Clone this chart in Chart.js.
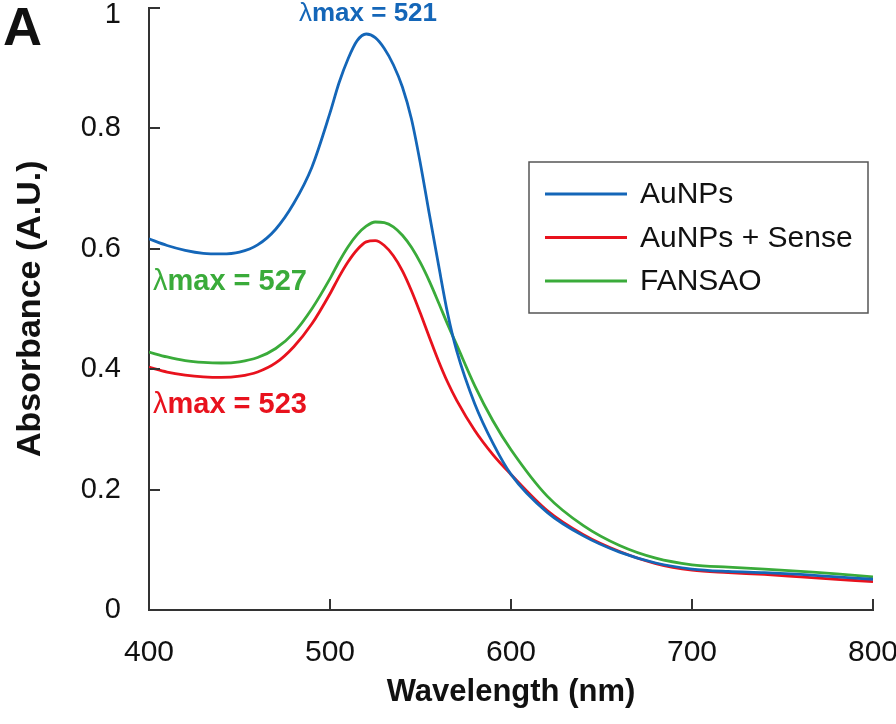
<!DOCTYPE html>
<html>
<head>
<meta charset="utf-8">
<script src="https://cdn.jsdelivr.net/npm/chart.js@4.4.1/dist/chart.umd.min.js"></script>
<style>
  html, body { margin: 0; padding: 0; background: #fff; }
  #wrap { width: 896px; height: 724px; }
</style>
</head>
<body>
<div id="wrap"><canvas id="myChart" width="896" height="724"></canvas></div>
<script>
// wavelength (nm) and absorbance (A.U.)
const wavelengths = [400, 410, 420, 430, 440, 450, 460, 470, 480, 490, 500, 505, 510, 515, 520, 525, 530, 535, 540, 545,
                     550, 555, 560, 565, 570, 580, 590, 600, 620, 640, 660, 680, 700, 720, 740, 760, 780, 800];
const aunps = [0.616, 0.605, 0.597, 0.592, 0.591, 0.594, 0.606, 0.632, 0.675, 0.735, 0.825, 0.875, 0.915, 0.945, 0.956, 0.950, 0.932, 0.905, 0.868, 0.815,
               0.740, 0.655, 0.572, 0.492, 0.430, 0.342, 0.277, 0.225, 0.162, 0.123, 0.096, 0.078, 0.068, 0.064, 0.062, 0.059, 0.055, 0.051];
const aunpsSense = [0.403, 0.395, 0.390, 0.387, 0.386, 0.388, 0.395, 0.410, 0.437, 0.475, 0.525, 0.553, 0.578, 0.598, 0.611, 0.613, 0.605, 0.588, 0.563, 0.530,
                    0.492, 0.452, 0.413, 0.378, 0.348, 0.298, 0.258, 0.225, 0.165, 0.125, 0.097, 0.077, 0.066, 0.062, 0.059, 0.055, 0.051, 0.047];
const fansao = [0.428, 0.420, 0.414, 0.411, 0.410, 0.412, 0.419, 0.434, 0.460, 0.500, 0.550, 0.578, 0.603, 0.623, 0.637, 0.644, 0.643, 0.636, 0.622, 0.602,
                0.576, 0.545, 0.510, 0.474, 0.440, 0.372, 0.314, 0.266, 0.189, 0.140, 0.107, 0.086, 0.075, 0.071, 0.068, 0.064, 0.060, 0.055];

const seriesNames = ['AuNPs', 'AuNPs + Sense', 'FANSAO'];
const seriesColors = ['#1466b8', '#e8121d', '#3aab3a'];
const peakValues = ['521', '523', '527'];
const xTickLabels = ['400', '500', '600', '700', '800'];
const yTickLabels = ['0', '0.2', '0.4', '0.6', '0.8', '1'];

const FONT = "'Liberation Sans', Arial, sans-serif";

function toPoints(vals) {
  return wavelengths.map((w, i) => ({ x: w, y: vals[i] }));
}

// small inward tick marks like the original
const innerTicks = {
  id: 'innerTicks',
  afterDraw(chart) {
    const ctx = chart.ctx;
    const xs = chart.scales.x, ys = chart.scales.y;
    const area = chart.chartArea;
    ctx.save();
    ctx.strokeStyle = '#333';
    ctx.lineWidth = 2;
    ctx.beginPath();
    ys.ticks.forEach(t => {
      if (t.value === 0) return;
      const py = Math.round(ys.getPixelForValue(t.value));
      ctx.moveTo(area.left, py);
      ctx.lineTo(area.left + 11, py);
    });
    xs.ticks.forEach(t => {
      if (t.value === 400) return;
      const px = Math.round(xs.getPixelForValue(t.value));
      ctx.moveTo(px, area.bottom);
      ctx.lineTo(px, area.bottom - 11);
    });
    ctx.stroke();

    // top label sits a little below its tick in the original (it would be clipped otherwise)
    ctx.fillStyle = '#111';
    ctx.font = "29px " + FONT;
    ctx.textAlign = 'right';
    ctx.textBaseline = 'middle';
    ctx.fillText(yTickLabels[yTickLabels.length - 1], area.left - 28, ys.getPixelForValue(1) + 7);
    ctx.restore();
  }
};

function peakLabel(ctx, txt, x, y, size, color, align) {
  ctx.font = size + "px " + FONT;
  const wl = ctx.measureText('\u03bb').width;
  ctx.font = "bold " + size + "px " + FONT;
  const rest = 'max = ' + txt;
  const wr = ctx.measureText(rest).width;
  let left = align === 'center' ? x - (wl + wr) / 2 : x;
  ctx.fillStyle = color;
  ctx.textAlign = 'left';
  ctx.font = size + "px " + FONT;
  ctx.fillText('\u03bb', left, y);
  ctx.font = "bold " + size + "px " + FONT;
  ctx.fillText(rest, left + wl, y);
}

// panel letter, peak labels and boxed legend
const extras = {
  id: 'extras',
  afterDraw(chart) {
    const ctx = chart.ctx;
    const xs = chart.scales.x;
    const area = chart.chartArea;
    ctx.save();

    ctx.fillStyle = '#111';
    ctx.font = "bold 54px " + FONT;
    ctx.textAlign = 'left';
    ctx.textBaseline = 'alphabetic';
    ctx.fillText('A', 3, 45);

    // peak labels
    peakLabel(ctx, peakValues[0], xs.getPixelForValue(521), 21, 26, seriesColors[0], 'center');
    peakLabel(ctx, peakValues[2], area.left + 4, 290, 29, seriesColors[2], 'left');
    peakLabel(ctx, peakValues[1], area.left + 4, 413, 29, seriesColors[1], 'left');

    // legend box
    const bx = 529, by = 162, bw = 339, bh = 151;
    ctx.fillStyle = '#fff';
    ctx.fillRect(bx, by, bw, bh);
    ctx.strokeStyle = '#555';
    ctx.lineWidth = 1.5;
    ctx.strokeRect(bx, by, bw, bh);
    ctx.font = "30px " + FONT;
    ctx.textBaseline = 'middle';
    ctx.textAlign = 'left';
    chart.data.datasets.forEach((ds, i) => {
      const ly = by + 32 + i * 43.5;
      ctx.strokeStyle = ds.borderColor;
      ctx.lineWidth = 3;
      ctx.beginPath();
      ctx.moveTo(bx + 16, ly);
      ctx.lineTo(bx + 98, ly);
      ctx.stroke();
      ctx.fillStyle = '#111';
      ctx.fillText(ds.label, bx + 111, ly + 1);
    });
    ctx.restore();
  }
};

const ctx = document.getElementById('myChart').getContext('2d');
const myChart = new Chart(ctx, {
  type: 'line',
  data: {
    datasets: [
      { label: seriesNames[0], data: toPoints(aunps), borderColor: seriesColors[0] },
      { label: seriesNames[1], data: toPoints(aunpsSense), borderColor: seriesColors[1] },
      { label: seriesNames[2], data: toPoints(fansao), borderColor: seriesColors[2] }
    ]
  },
  options: {
    responsive: false,
    animation: false,
    devicePixelRatio: 1,
    layout: { padding: { top: 7.5, right: 23, left: 0, bottom: 0 } },
    elements: {
      point: { radius: 0 },
      line: { borderWidth: 2.8, cubicInterpolationMode: 'monotone', fill: false }
    },
    plugins: {
      legend: { display: false },
      tooltip: { enabled: false }
    },
    scales: {
      x: {
        type: 'linear',
        min: 400,
        max: 800,
        grid: { display: false, drawTicks: false },
        border: { display: true, color: '#333', width: 2 },
        ticks: {
          stepSize: 100,
          padding: 25,
          color: '#111',
          font: { family: FONT, size: 30 },
          maxRotation: 0,
          callback: (v, i) => xTickLabels[i]
        },
        title: {
          display: true,
          text: 'Wavelength (nm)',
          color: '#111',
          font: { family: FONT, size: 31, weight: 'bold' },
          padding: { top: 0, bottom: 13 }
        },
        afterFit(scale) {
          scale.height = 114;
          scale.paddingLeft = 0;
          scale.paddingRight = 0;
        }
      },
      y: {
        min: 0,
        max: 1,
        grid: { display: false, drawTicks: false },
        border: { display: true, color: '#333', width: 2 },
        ticks: {
          stepSize: 0.2,
          padding: 28,
          color: '#111',
          font: { family: FONT, size: 29 },
          callback: (v, i) => (i === yTickLabels.length - 1 ? '' : yTickLabels[i])
        },
        title: {
          display: true,
          text: 'Absorbance (A.U.)',
          color: '#111',
          font: { family: FONT, size: 34, weight: 'bold' },
          padding: { top: 10, bottom: 0 }
        },
        afterFit(scale) {
          scale.width = 149;
          scale.paddingTop = 0;
          scale.paddingBottom = 0;
        }
      }
    }
  },
  plugins: [innerTicks, extras]
});
</script>
</body>
</html>
